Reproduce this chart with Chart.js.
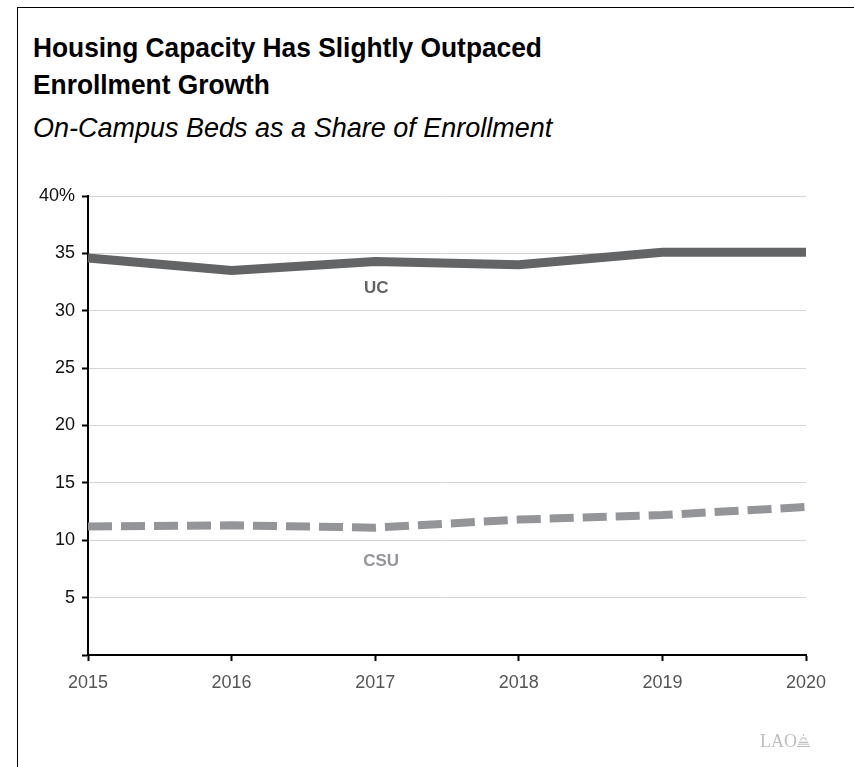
<!DOCTYPE html>
<html>
<head>
<meta charset="utf-8">
<script src="https://cdn.jsdelivr.net/npm/chart.js@4"></script>
<style>
  html, body { margin: 0; padding: 0; background: #fff; }
  body { width: 854px; height: 767px; position: relative; overflow: hidden; font-family: "Liberation Sans", Arial, sans-serif; }
  #frame { position: absolute; left: 17px; top: 7px; width: 900px; height: 800px; border: 1px solid #000; }
  .title { position: absolute; left: 33px; font-weight: bold; font-size: 28px; line-height: 1; color: #000; white-space: nowrap; transform: scaleX(0.94); transform-origin: left top; }
  #subtitle { position: absolute; left: 33px; top: 115px; font-style: italic; font-size: 27px; line-height: 1; color: #000; white-space: nowrap; }
  #chartWrap { position: absolute; left: 0; top: 0; width: 854px; height: 767px; }
  #logo { position: absolute; left: 760px; top: 731px; font-family: "Liberation Serif", serif; font-size: 18px; color: #bdbdbd; }
</style>
</head>
<body>
<div id="frame"></div>
<div class="title" style="top:34px">Housing Capacity Has Slightly Outpaced</div>
<div class="title" style="top:71px">Enrollment Growth</div>
<div id="subtitle">On-Campus Beds as a Share of Enrollment</div>
<div id="chartWrap"><canvas id="chart" width="854" height="767"></canvas></div>
<div id="logo">LAO<svg width="13" height="15" viewBox="0 0 14 16" style="vertical-align:-1px"><path d="M7 1v2M4 8a3 3 0 0 1 6 0M2 10h10M1 12h12M0 14.5h14" stroke="#bdbdbd" stroke-width="1.2" fill="none"/></svg></div>

<script>
// Datos
const years = ["2015", "2016", "2017", "2018", "2019", "2020"];
const ucShare = [34.6, 33.5, 34.3, 34.0, 35.1, 35.1];
const csuShare = [11.2, 11.3, 11.1, 11.8, 12.2, 12.9];
const yTicks = [0, 5, 10, 15, 20, 25, 30, 35, 40];

// Etiquetas de series dentro del grafico
const seriesLabels = {
  id: "seriesLabels",
  afterDatasetsDraw(chart) {
    const ctx = chart.ctx;
    const x = chart.scales.x;
    const y = chart.scales.y;
    ctx.save();
    ctx.font = "bold 17px 'Liberation Sans', Arial, sans-serif";
    ctx.textAlign = "center";
    ctx.textBaseline = "middle";
    ctx.fillStyle = "#636466";
    ctx.fillText("UC", x.getPixelForValue(2) + 1, y.getPixelForValue(31.95));
    ctx.fillStyle = "#939598";
    ctx.fillText("CSU", x.getPixelForValue(2) + 6, y.getPixelForValue(8.15));
    ctx.restore();
  }
};

new Chart(document.getElementById("chart"), {
  type: "line",
  data: {
    labels: years,
    datasets: [
      {
        label: "UC",
        data: ucShare,
        borderColor: "#636466",
        borderWidth: 9,
        pointRadius: 0,
        tension: 0,
        borderCapStyle: "butt"
      },
      {
        label: "CSU",
        data: csuShare,
        borderColor: "#939598",
        borderWidth: 8,
        borderDash: [24, 9],
        pointRadius: 0,
        tension: 0,
        borderCapStyle: "butt"
      }
    ]
  },
  options: {
    responsive: false,
    animation: false,
    layout: { padding: { top: 196, left: 0, right: 48, bottom: 72 } },
    plugins: { legend: { display: false }, tooltip: { enabled: false } },
    scales: {
      x: {
        offset: false,
        afterFit: s => { s.height = 40; },
        border: { display: true, color: "#000", width: 2 },
        grid: { drawOnChartArea: false, drawTicks: true, tickLength: 6, tickColor: "#000", tickWidth: 2 },
        ticks: { color: "#555", padding: 11, maxRotation: 0, font: { size: 18, family: "'Liberation Sans', Arial, sans-serif" } }
      },
      y: {
        min: 0,
        max: 40,
        afterFit: s => { s.width = 88; },
        afterBuildTicks: s => { s.ticks = yTicks.map(v => ({ value: v })); },
        border: { display: true, color: "#000", width: 2 },
        grid: { color: "#d4d4d4", lineWidth: 1, drawTicks: true, tickLength: 6, tickColor: "#000", tickWidth: 2 },
        ticks: {
          color: "#111",
          padding: 7,
          font: { size: 18, family: "'Liberation Sans', Arial, sans-serif" },
          callback: v => v === 0 ? "" : (v === 40 ? "40%" : String(v))
        }
      }
    }
  },
  plugins: [seriesLabels]
});
</script>
</body>
</html>
